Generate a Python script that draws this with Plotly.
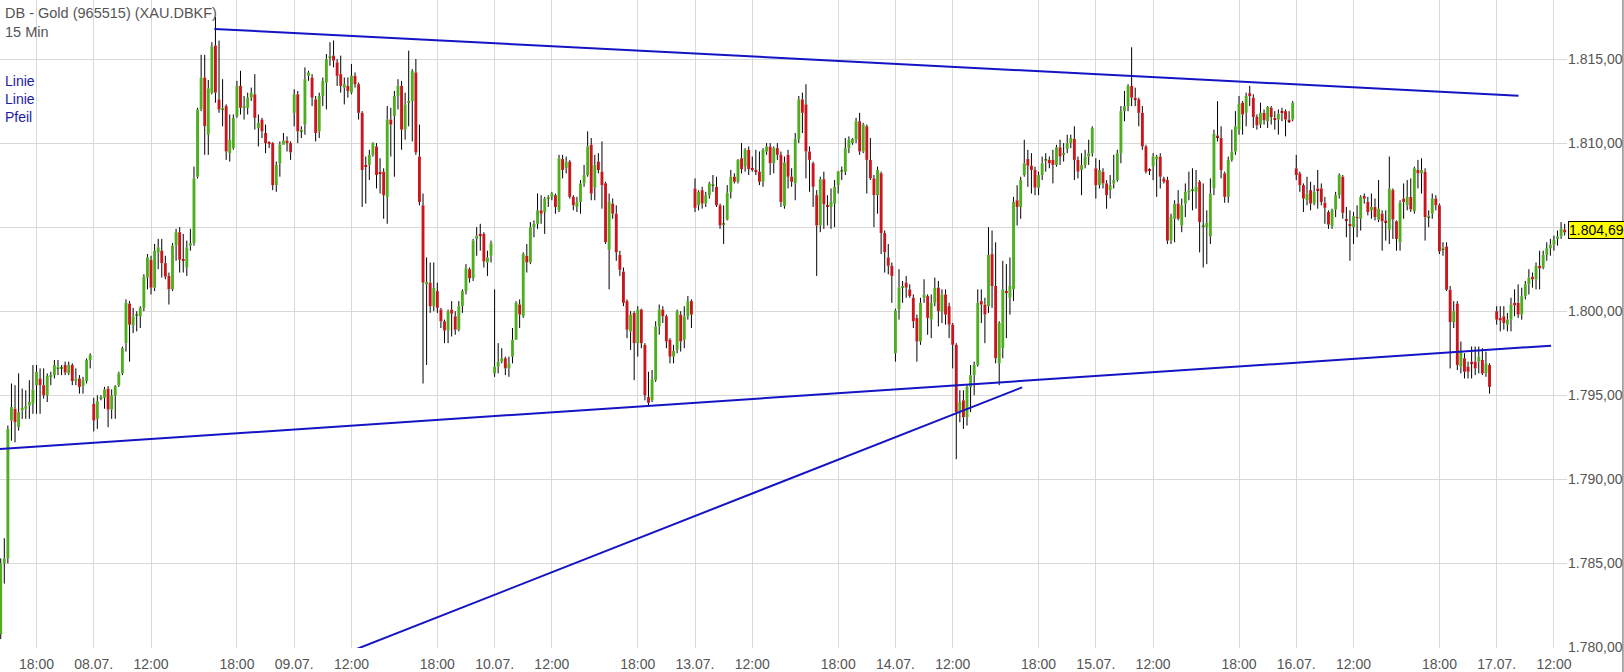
import plotly.graph_objects as go

# ---------------- data (15-min bars, index 0 = 07.07. 15:30) ----------------
OPEN = [
 1780.8,1785.0,1785.3,1793.5,1794.2,1793.1,1794.1,1794.2,1794.4,1794.5,
 1795.6,1796.0,1795.6,1795.0,1796.1,1796.2,1796.6,1796.6,1796.8,1796.3,
 1796.8,1795.85,1796.0,1795.55,1795.85,1797.1,1794.5,1793.6,1794.8,1794.85,
 1795.4,1794.15,1795.0,1795.6,1796.3,1798.1,1800.45,1799.15,1799.75,1799.7,
 1800.2,1802.0,1803.06,1801.4,1803.5,1803.6,1802.86,1802.1,1801.3,1803.9,
 1804.7,1803.1,1802.6,1803.9,1804.05,1808.0,1812.0,1813.9,1810.5,1813.0,
 1815.8,1812.6,1812.0,1812.2,1809.4,1809.7,1811.6,1813.4,1812.1,1812.1,
 1812.7,1812.9,1810.9,1811.4,1810.6,1810.05,1810.0,1807.5,1808.8,1809.9,
 1810.15,1810.0,1811.8,1812.9,1810.7,1811.1,1814.0,1813.9,1812.6,1810.7,
 1812.8,1813.6,1815.1,1815.2,1814.8,1814.1,1813.3,1813.4,1813.0,1814.0,
 1813.5,1811.8,1808.7,1808.7,1809.3,1809.8,1808.3,1808.3,1806.8,1811.4,
 1811.6,1812.8,1813.4,1810.8,1812.4,1812.5,1814.2,1809.2,1806.3,1801.6,
 1801.7,1800.3,1801.2,1800.1,1799.4,1798.85,1800.1,1799.7,1798.9,1800.3,
 1801.2,1802.5,1801.96,1804.3,1804.6,1804.6,1802.9,1803.3,1796.3,1796.7,
 1797.0,1797.2,1796.6,1797.3,1798.3,1800.4,1799.7,1803.3,1802.9,1805.0,
 1805.2,1806.0,1805.9,1806.7,1806.8,1806.9,1806.0,1809.05,1808.5,1808.9,
 1806.8,1806.2,1806.5,1807.6,1808.1,1809.9,1807.35,1808.9,1808.3,1807.6,
 1803.65,1806.4,1805.8,1803.35,1802.36,1800.6,1798.8,1799.9,1798.1,1800.1,
 1798.0,1794.9,1794.7,1795.9,1799.1,1800.1,1799.7,1798.3,1797.3,1797.7,
 1799.8,1798.3,1799.7,1800.6,1807.3,1806.3,1807.2,1806.4,1806.9,1807.5,
 1807.4,1806.3,1805.15,1805.45,1807.1,1808.0,1807.7,1809.1,1808.6,1809.6,
 1808.5,1808.4,1808.3,1807.7,1809.5,1809.8,1808.8,1809.7,1809.3,1806.25,
 1809.3,1808.0,1807.6,1810.25,1812.6,1812.3,1809.5,1808.8,1806.9,1805.1,
 1807.85,1806.3,1806.2,1806.4,1807.5,1808.3,1808.3,1809.7,1810.0,1810.2,
 1811.3,1809.5,1811.0,1809.0,1807.9,1806.9,1808.2,1804.65,1803.2,1802.7,
 1797.5,1800.1,1801.4,1801.7,1801.3,1800.8,1799.6,1798.2,1800.8,1800.9,
 1799.5,1800.5,1801.4,1800.0,1801.0,1800.3,1799.2,1798.0,1794.0,1794.7,
 1793.7,1795.5,1796.2,1796.8,1800.6,1800.4,1800.3,1803.4,1801.5,1796.9,
 1797.8,1801.2,1800.8,1801.3,1806.6,1806.2,1808.1,1809.05,1808.65,1808.4,
 1807.35,1808.1,1808.95,1809.0,1809.0,1808.7,1809.75,1809.3,1809.65,1810.0,
 1810.25,1809.0,1808.4,1808.7,1809.2,1809.4,1808.5,1807.5,1808.3,1807.6,
 1807.2,1807.6,1807.8,1809.4,1811.9,1812.2,1813.4,1812.7,1812.6,1811.8,
 1809.8,1808.4,1808.6,1809.05,1809.2,1807.9,1807.8,1804.2,1805.5,1806.4,
 1805.1,1806.4,1807.05,1807.2,1807.1,1807.7,1805.05,1805.0,1804.45,1807.3,
 1810.45,1810.3,1808.2,1806.8,1809.0,1809.5,1810.8,1812.4,1811.8,1812.97,
 1812.7,1811.55,1811.1,1811.8,1811.3,1812.1,1811.5,1811.4,1811.88,1811.9,
 1811.4,1811.4,1808.5,1808.2,1807.5,1806.6,1807.2,1806.4,1807.3,1807.3,
 1806.45,1805.9,1805.05,1806.05,1806.9,1808.0,1805.5,1805.2,1805.0,1805.6,
 1805.5,1806.85,1806.5,1806.0,1806.2,1805.45,1805.8,1805.4,1804.85,1807.2,
 1805.35,1804.1,1806.7,1806.3,1806.8,1805.95,1808.4,1808.2,1808.3,1805.6,
 1805.8,1806.7,1806.3,1803.7,1803.85,1801.28,1799.35,1800.45,1796.7,1797.2,
 1796.7,1797.0,1797.0,1797.0,1797.1,1796.3,1796.8,None,1800.0,1799.6,
 1799.7,1799.2,1799.5,1800.5,1800.5,1799.8,1800.9,1801.6,1802.05,1801.9,
 1802.7,1802.6,1803.35,1803.75,1803.95,1804.3,1804.45,1804.85,
]
HIGH = [
 1785.3,1786.5,1793.2,1795.7,1795.6,1796.3,1795.4,1795.3,1795.9,1796.8,
 1796.8,1796.6,1796.6,1796.3,1796.4,1797.1,1797.1,1796.8,1797.0,1797.0,
 1796.9,1796.6,1796.2,1796.1,1797.2,1797.5,1794.85,1795.0,1795.0,1795.5,
 1795.55,1795.35,1795.6,1796.4,1797.9,1800.7,1800.6,1800.2,1800.0,1800.3,
 1802.2,1803.4,1803.3,1804.0,1804.3,1804.3,1803.3,1802.3,1804.05,1804.9,
 1805.0,1804.6,1804.2,1804.9,1808.6,1812.1,1815.25,1815.25,1813.75,1816.0,
 1817.5,1816.1,1813.8,1812.3,1811.7,1811.7,1813.7,1814.3,1812.8,1813.0,
 1813.3,1814.1,1811.7,1811.5,1811.1,1810.1,1810.05,1808.9,1810.1,1810.6,
 1810.4,1810.1,1813.2,1813.1,1811.0,1814.5,1814.3,1814.1,1812.8,1813.0,
 1813.9,1815.3,1816.0,1816.1,1815.0,1815.2,1813.9,1813.9,1814.7,1814.2,
 1813.6,1811.9,1809.2,1809.6,1810.05,1810.0,1809.1,1808.5,1812.2,1812.1,
 1813.1,1813.8,1813.7,1813.0,1815.5,1814.4,1815.0,1811.1,1807.0,1803.2,
 1802.9,1802.9,1801.7,1800.2,1799.5,1800.1,1800.6,1800.0,1800.6,1801.3,
 1802.8,1802.6,1804.3,1805.0,1805.2,1804.7,1803.6,1804.2,1801.3,1798.1,
 1797.8,1797.3,1797.3,1799.0,1800.6,1800.7,1803.5,1804.0,1805.3,1805.4,
 1807.0,1806.9,1806.8,1806.9,1807.1,1807.0,1809.3,1809.3,1809.2,1809.0,
 1806.9,1806.8,1807.8,1808.7,1810.7,1810.3,1809.3,1809.4,1810.1,1807.7,
 1807.0,1806.7,1806.3,1803.6,1802.6,1800.7,1800.0,1800.0,1800.3,1800.15,
 1798.1,1796.4,1796.5,1799.4,1800.4,1800.3,1799.8,1798.4,1798.0,1800.1,
 1800.0,1800.3,1800.9,1800.7,1807.9,1807.2,1807.4,1807.1,1807.7,1808.1,
 1808.0,1806.4,1806.3,1807.5,1808.4,1808.2,1809.05,1810.0,1809.7,1809.8,
 1809.2,1809.6,1809.5,1809.7,1810.0,1810.0,1809.8,1810.0,1809.5,1809.2,
 1809.6,1808.5,1810.6,1812.8,1813.0,1813.5,1809.8,1808.9,1807.2,1808.0,
 1808.3,1806.9,1807.3,1807.8,1808.35,1808.6,1810.3,1810.4,1810.3,1811.5,
 1811.8,1811.2,1811.1,1810.3,1808.1,1808.6,1808.3,1804.8,1804.0,1802.9,
 1800.15,1802.5,1801.8,1802.1,1801.6,1801.0,1799.8,1800.8,1801.9,1801.0,
 1801.0,1802.0,1801.8,1801.3,1801.3,1800.5,1799.3,1798.1,1795.3,1795.3,
 1795.6,1796.8,1797.0,1801.3,1801.3,1800.8,1805.0,1804.8,1804.1,1799.4,
 1803.0,1802.8,1803.2,1806.8,1807.5,1808.0,1810.2,1809.6,1809.4,1808.6,
 1808.3,1809.2,1809.4,1809.2,1809.6,1809.9,1810.2,1810.0,1810.5,1810.5,
 1811.0,1809.2,1809.4,1809.6,1810.2,1811.0,1809.1,1809.0,1808.5,1807.8,
 1808.1,1809.3,1809.6,1812.2,1813.1,1813.5,1815.7,1813.3,1812.7,1812.2,
 1809.9,1808.5,1809.4,1809.3,1809.4,1808.0,1808.0,1805.8,1806.6,1807.2,
 1806.7,1807.6,1808.3,1808.5,1808.4,1807.8,1807.6,1806.0,1807.9,1810.8,
 1812.5,1811.0,1808.3,1809.2,1810.8,1811.9,1812.8,1812.5,1813.0,1813.4,
 1812.9,1811.7,1812.4,1812.0,1812.2,1812.2,1811.9,1812.0,1812.1,1812.0,
 1811.9,1812.5,1809.3,1808.3,1807.6,1808.0,1807.7,1807.5,1808.4,1807.6,
 1806.8,1806.0,1806.1,1807.1,1808.2,1808.1,1806.2,1806.0,1805.9,1806.3,
 1806.9,1807.0,1806.8,1807.0,1806.7,1807.8,1806.0,1806.0,1809.2,1807.3,
 1805.4,1806.6,1807.6,1807.8,1807.9,1808.6,1809.0,1809.1,1808.5,1806.0,
 1807.0,1806.9,1806.4,1804.1,1804.1,1801.5,1800.6,1800.6,1798.2,1797.5,
 1797.0,1797.9,1797.9,1797.9,1797.8,1797.6,1796.9,None,1800.3,1800.3,
 1800.3,1799.9,1800.8,1801.3,1801.6,1801.4,1801.8,1802.5,1802.3,1802.9,
 1803.6,1803.6,1804.1,1804.3,1804.5,1804.8,1805.3,1805.2,
]
LOW = [
 1780.5,1783.8,1785.0,1792.3,1792.2,1792.9,1793.6,1793.6,1793.6,1793.9,
 1793.9,1793.9,1794.8,1794.6,1795.6,1796.0,1796.2,1796.2,1796.2,1796.2,
 1795.6,1795.6,1795.1,1795.1,1795.7,1796.6,1792.85,1793.0,1794.7,1794.2,
 1793.1,1793.6,1793.6,1795.5,1796.2,1797.6,1797.0,1798.7,1798.8,1799.0,
 1800.0,1801.3,1801.0,1801.2,1802.5,1802.0,1801.9,1800.4,1801.2,1803.0,
 1802.3,1802.3,1802.1,1803.6,1803.9,1807.9,1811.9,1809.3,1809.3,1812.9,
 1812.4,1811.8,1811.0,1809.0,1808.9,1809.6,1811.5,1811.7,1811.4,1811.7,
 1812.5,1810.8,1809.8,1810.3,1809.4,1809.7,1807.2,1807.1,1808.0,1809.9,
 1809.5,1809.0,1811.0,1810.0,1810.3,1810.5,1813.7,1812.2,1810.1,1810.3,
 1812.2,1812.0,1814.6,1814.5,1813.4,1813.0,1812.3,1812.7,1812.9,1813.3,
 1811.4,1806.2,1806.4,1807.8,1809.2,1807.3,1807.0,1805.5,1805.2,1809.2,
 1808.0,1812.0,1809.6,1810.2,1811.0,1810.1,1809.3,1806.3,1795.7,1796.8,
 1799.9,1800.0,1799.9,1799.0,1798.1,1798.1,1798.5,1798.6,1798.8,1799.9,
 1801.0,1801.7,1801.8,1803.3,1803.6,1802.6,1802.1,1802.9,1796.1,1796.3,
 1796.9,1796.2,1796.1,1796.9,1798.3,1799.0,1799.6,1802.3,1802.8,1804.4,
 1804.9,1805.2,1804.6,1806.2,1806.6,1805.8,1805.9,1807.9,1808.2,1806.7,
 1806.0,1805.9,1805.8,1807.4,1808.0,1806.6,1806.6,1808.2,1806.1,1804.0,
 1801.3,1805.5,1803.0,1802.1,1800.3,1798.4,1797.7,1795.9,1797.3,1797.8,
 1794.7,1794.4,1794.6,1795.8,1798.6,1799.3,1797.8,1796.9,1796.9,1797.5,
 1797.6,1797.8,1799.5,1799.0,1805.9,1806.0,1806.1,1806.2,1806.7,1807.1,
 1806.2,1804.9,1804.0,1805.4,1806.7,1807.6,1807.6,1808.2,1808.3,1808.1,
 1808.3,1808.1,1807.5,1807.4,1809.3,1808.1,1808.2,1809.0,1806.2,1806.1,
 1807.3,1807.4,1806.6,1810.0,1810.6,1807.9,1807.1,1806.2,1802.1,1804.7,
 1804.9,1805.1,1804.9,1805.0,1807.0,1807.8,1808.1,1809.4,1809.9,1810.0,
 1809.3,1809.4,1807.0,1807.8,1805.0,1805.8,1803.4,1802.3,1802.2,1800.5,
 1797.0,1799.5,1800.5,1800.8,1800.8,1799.0,1797.0,1798.0,1800.5,1798.6,
 1798.4,1800.3,1799.1,1799.3,1799.2,1798.4,1796.6,1791.2,1793.4,1793.0,
 1793.2,1794.0,1795.0,1796.7,1799.3,1798.1,1799.9,1800.2,1796.9,1795.6,
 1797.2,1798.4,1799.8,1800.6,1805.1,1805.5,1808.0,1807.4,1807.0,1806.9,
 1806.9,1807.8,1808.3,1808.5,1807.6,1808.6,1808.7,1808.9,1809.4,1809.7,
 1807.8,1807.9,1806.9,1808.5,1808.7,1809.2,1806.7,1807.3,1807.3,1806.1,
 1806.7,1807.3,1807.7,1808.8,1811.3,1811.9,1812.2,1812.2,1811.0,1809.6,
 1808.2,1808.1,1807.8,1806.8,1807.3,1807.6,1804.0,1804.0,1804.1,1805.4,
 1804.7,1805.6,1806.6,1806.0,1806.1,1803.5,1802.6,1802.8,1804.0,1806.9,
 1810.1,1807.9,1806.45,1806.45,1808.9,1809.3,1810.5,1810.5,1811.0,1812.2,
 1810.9,1810.8,1810.9,1811.1,1810.9,1811.1,1810.8,1810.5,1811.3,1810.4,
 1811.2,1811.3,1807.8,1807.1,1805.9,1806.3,1806.0,1806.3,1806.1,1806.3,
 1805.2,1804.9,1804.9,1805.6,1806.7,1805.5,1804.4,1803.0,1804.0,1804.4,
 1804.8,1806.4,1805.7,1805.5,1805.4,1805.3,1803.6,1804.2,1804.0,1804.3,
 1803.6,1803.6,1805.5,1806.0,1805.9,1805.8,1807.3,1807.0,1804.2,1805.0,
 1805.5,1806.0,1803.4,1803.3,1801.2,1796.6,1799.0,1796.5,1796.3,1796.0,
 1796.0,1796.0,1796.2,1796.3,1796.2,1796.1,1795.1,None,1799.2,1798.8,
 1798.9,1798.8,1798.8,1799.7,1799.6,1799.5,1800.7,1801.0,1801.4,1801.3,
 1801.3,1802.5,1803.0,1803.3,1803.6,1803.9,1804.3,1804.5,
]
CLOSE = [
 1785.0,1785.3,1793.0,1794.3,1793.4,1794.0,1794.25,1794.35,1794.6,1795.35,
 1796.4,1795.6,1795.0,1796.15,1796.2,1796.8,1796.7,1796.65,1796.35,1796.8,
 1795.85,1796.0,1795.5,1795.9,1797.1,1797.4,1793.5,1794.65,1794.9,1795.35,
 1794.15,1795.0,1795.55,1796.3,1797.8,1800.5,1799.2,1799.7,1799.8,1800.2,
 1802.06,1803.2,1801.4,1803.6,1803.8,1802.86,1802.06,1801.3,1803.9,1804.7,
 1803.06,1803.0,1803.8,1804.05,1807.9,1812.0,1813.9,1811.0,1813.26,1815.75,
 1813.0,1812.0,1812.1,1809.5,1810.2,1811.5,1813.4,1812.1,1812.2,1812.7,
 1813.0,1811.5,1811.2,1810.7,1810.0,1809.95,1807.5,1808.7,1809.9,1810.15,
 1810.0,1809.45,1812.9,1810.7,1810.8,1813.8,1814.2,1812.7,1810.6,1812.8,
 1813.7,1815.0,1815.2,1814.9,1814.0,1813.4,1813.5,1813.1,1814.0,1813.5,
 1811.8,1808.4,1808.6,1809.3,1810.0,1808.1,1808.2,1806.9,1811.4,1811.1,
 1812.8,1813.4,1810.8,1812.3,1812.5,1814.3,1809.45,1806.5,1801.7,1801.75,
 1800.3,1801.4,1800.2,1799.4,1798.85,1800.0,1799.85,1798.9,1800.3,1801.2,
 1802.56,1801.96,1804.2,1804.5,1804.5,1802.96,1803.2,1804.05,1796.7,1797.0,
 1797.2,1796.6,1796.9,1798.3,1800.5,1799.8,1803.4,1802.9,1805.0,1805.2,
 1806.0,1805.8,1806.7,1806.8,1807.0,1806.2,1809.1,1808.4,1808.9,1806.8,
 1806.3,1806.5,1807.6,1808.1,1809.8,1807.0,1808.7,1808.4,1807.5,1804.1,
 1806.5,1805.8,1803.5,1802.46,1800.5,1798.9,1799.8,1798.1,1800.1,1798.1,
 1795.0,1794.55,1795.95,1799.1,1800.1,1799.7,1798.2,1797.3,1797.65,1800.0,
 1798.2,1799.7,1800.6,1799.8,1806.15,1807.1,1806.4,1806.9,1807.6,1807.55,
 1806.3,1805.1,1805.2,1807.05,1808.0,1807.7,1809.0,1808.45,1809.6,1808.45,
 1808.4,1808.3,1807.7,1809.6,1809.8,1808.8,1809.7,1809.3,1806.5,1808.85,
 1808.0,1807.7,1810.25,1812.6,1811.8,1809.5,1809.0,1807.4,1805.1,1807.85,
 1806.35,1806.2,1806.5,1807.4,1808.3,1808.35,1809.7,1810.2,1810.25,1811.3,
 1809.5,1811.1,1809.0,1807.9,1806.9,1808.4,1804.65,1803.5,1802.7,1802.1,
 1800.05,1801.4,1801.5,1801.4,1800.9,1799.4,1798.2,1800.5,1801.0,1799.6,
 1800.5,1801.4,1800.0,1801.0,1799.8,1799.2,1798.0,1794.0,1794.6,1793.7,
 1795.5,1796.2,1796.8,1800.5,1800.4,1799.8,1803.35,1801.5,1797.2,1799.3,
 1801.3,1801.1,1801.5,1806.5,1806.2,1807.8,1808.8,1808.65,1808.4,1807.35,
 1808.1,1808.8,1809.0,1808.8,1808.7,1809.75,1809.2,1809.4,1810.0,1810.3,
 1809.0,1808.3,1808.7,1809.2,1809.4,1810.9,1807.5,1808.4,1807.6,1806.9,
 1807.5,1807.8,1809.4,1811.9,1812.2,1813.4,1812.7,1812.6,1811.8,1809.8,
 1808.3,1808.35,1809.2,1809.2,1808.0,1807.7,1804.2,1805.6,1806.4,1805.5,
 1806.3,1807.1,1807.2,1807.25,1807.4,1805.3,1805.1,1805.25,1807.0,1810.55,
 1810.35,1808.4,1806.8,1809.0,1809.5,1811.0,1812.34,1811.7,1812.8,1812.8,
 1811.55,1811.05,1811.8,1811.35,1812.15,1811.55,1811.4,1811.75,1811.8,1811.4,
 1811.3,1812.4,1808.1,1807.5,1806.7,1807.0,1806.4,1807.1,1807.2,1806.5,
 1806.15,1805.15,1806.05,1806.9,1808.1,1805.85,1805.4,1805.1,1805.65,1805.55,
 1806.8,1806.7,1805.9,1806.2,1805.6,1806.1,1805.35,1805.3,1807.3,1805.45,
 1804.3,1806.45,1806.5,1806.8,1806.05,1808.5,1808.2,1808.4,1805.6,1805.7,
 1806.7,1806.3,1803.56,1803.8,1801.28,1799.35,1800.0,1796.8,1797.6,1796.4,
 1796.4,1796.9,1796.6,1797.3,1796.3,1796.9,1795.5,None,1799.5,1799.45,
 1799.3,1799.5,1800.4,1800.35,1799.8,1800.9,1801.6,1802.0,1801.9,1802.7,
 1802.55,1803.35,1803.75,1803.95,1804.25,1804.45,1804.9,1804.69,
]

TICK_IDX = [10, 26, 42, 66, 82, 98, 122, 138, 154, 178, 194, 210,
            234, 250, 266, 290, 306, 322, 346, 362, 378, 402, 418, 434]
TICK_TEXT = ['18:00', '08.07.', '12:00', '18:00', '09.07.', '12:00',
             '18:00', '10.07.', '12:00', '18:00', '13.07.', '12:00',
             '18:00', '14.07.', '12:00', '18:00', '15.07.', '12:00',
             '18:00', '16.07.', '12:00', '18:00', '17.07.', '12:00']

# drawn trend lines (bar index, price)
TREND_UPPER_X = [59.7, 424.1]
TREND_UPPER_Y = [1816.79, 1812.81]
TREND_LOWER_X = [-0.2, 433.2]
TREND_LOWER_Y = [1791.8, 1797.95]
TREND_RISE_X = [85.7, 285.4]
TREND_RISE_Y = [1778.76, 1795.47]

TITLE = 'DB - Gold (965515) (XAU.DBKF)'
SUBTITLE = '15 Min'
LEGEND_ITEMS = ['Linie', 'Linie', 'Pfeil']

# ---------------- styling ----------------
FONT = 'Liberation Sans, Arial, Helvetica, sans-serif'
GREEN = '#4fae1f'
RED = '#c8161c'
BLUE = '#1414c4'
GRID = '#d9d9d9'
TXT = '#555555'

bx, base, hgt, cols = [], [], [], []
wx, wy = [], []
for i, (o, h, l, c) in enumerate(zip(OPEN, HIGH, LOW, CLOSE)):
    if o is None:
        continue
    top, bot = max(o, c), min(o, c)
    bx.append(i)
    base.append(bot)
    hgt.append(top - bot)
    cols.append(GREEN if c >= o else RED)
    wx += [i, i, None, i, i, None]
    wy += [h, top, None, bot, l, None]

fig = go.Figure()
fig.add_trace(go.Bar(x=bx, y=hgt, base=base, width=0.8,
                     marker=dict(color=cols, line=dict(width=0)),
                     hoverinfo='skip'))
fig.add_trace(go.Scatter(x=wx, y=wy, mode='lines',
                         line=dict(color='#000000', width=1),
                         hoverinfo='skip', connectgaps=False))
for tx, ty in [(TREND_UPPER_X, TREND_UPPER_Y), (TREND_LOWER_X, TREND_LOWER_Y),
               (TREND_RISE_X, TREND_RISE_Y)]:
    fig.add_trace(go.Scatter(x=tx, y=ty, mode='lines',
                             line=dict(color=BLUE, width=2), hoverinfo='skip'))

last_close = [c for c in CLOSE if c is not None][-1]
last_label = f'{last_close:,.2f}'.replace(',', 'X').replace('.', ',').replace('X', '.')

fig.update_layout(
    width=1624, height=672, autosize=False,
    margin=dict(l=0, r=57, t=0, b=21, pad=0),
    paper_bgcolor='white', plot_bgcolor='white',
    showlegend=False, separators=',.',
    font=dict(family=FONT, size=14, color=TXT),
    xaxis=dict(range=[-0.2, 437.65], tickmode='array', tickvals=TICK_IDX,
               ticktext=TICK_TEXT, showgrid=True, gridcolor=GRID, gridwidth=1,
               zeroline=False, showline=False, ticks='outside', ticklen=3,
               tickcolor='rgba(0,0,0,0)',
               tickfont=dict(family=FONT, size=14, color=TXT)),
    yaxis=dict(side='right', range=[1779.97, 1818.51], tick0=1780, dtick=5,
               tickformat=',.2f', showgrid=True, gridcolor=GRID, gridwidth=1,
               zeroline=False, showline=False, ticks='', ticklen=0,
               tickfont=dict(family=FONT, size=14, color=TXT)),
    annotations=[
        dict(text=TITLE + '<br>' + SUBTITLE, xref='paper', yref='paper', x=0, y=1,
             xanchor='left', yanchor='top', showarrow=False, align='left',
             xshift=3, yshift=-3, font=dict(family=FONT, size=14.5, color=TXT)),
        dict(text='<br>'.join(LEGEND_ITEMS), xref='paper', yref='paper', x=0, y=1,
             xanchor='left', yanchor='top', showarrow=False, align='left',
             xshift=3, yshift=-71, font=dict(family=FONT, size=14, color='#1a1aaa')),
        dict(text=last_label, xref='paper', yref='y', x=1, y=last_close,
             xanchor='left', yanchor='middle', showarrow=False, xshift=1, yshift=2,
             bgcolor='#ffff00', bordercolor='#000000', borderwidth=1, borderpad=0,
             font=dict(family=FONT, size=14, color='#000000')),
    ],
    shapes=[dict(type='line', xref='paper', yref='paper', x0=1.0357, x1=1.0357,
                 y0=-0.04, y1=1.0, line=dict(color='#555555', width=1))],
)

fig.write_html('out.html', config={'displayModeBar': False},
               post_script="document.body.style.margin='0px';"
                           "document.body.style.overflow='hidden';")
